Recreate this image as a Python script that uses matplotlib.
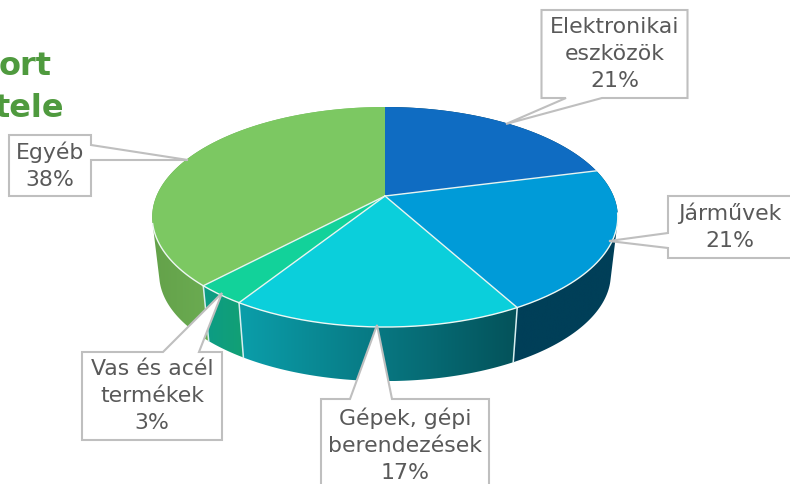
import numpy as np
import matplotlib
matplotlib.use("Agg")
import matplotlib.pyplot as plt
from matplotlib.colors import LinearSegmentedColormap
from matplotlib.patches import Polygon

# slices, clockwise from 12 o'clock
labels = ["Elektronikai\neszközök\n21%", "Járművek\n21%", "Gépek, gépi\nberendezések\n17%",
          "Vas és acél\ntermékek\n3%", "Egyéb\n38%"]
values = [21, 21, 17, 3, 38]
top_colors = ["#0f6cc2", "#009bd8", "#0bcfdb", "#12d29a", "#7cc862"]
wall_left = ["#003f58", "#003f58", "#0b9eaa", "#0c9c86", "#64a24a"]
wall_right = ["#003f58", "#003f58", "#04525a", "#12a074", "#80c868"]

# callouts: box left, top, right, bottom, leader start, leader end, tip (pixels)
boxes = [(541.5, 10, 687.5, 98), (668, 196, 800, 258), (321, 399, 489, 500),
         (82, 352, 222, 440), (9, 135, 91, 196)]
leaders = [((602, 98), (566, 98), (506, 124)), ((668, 248), (668, 233), (609, 241)),
           ((392, 399), (350, 399), (377, 325)), ((199, 352), (163, 352), (222, 293)),
           ((91, 145), (91, 160), (188, 160))]

CX, CY = 385, 196
RX, RY, PERSP = 228.5, 106, 0.191
WALL_DY, WALL_SCALE = 58, 0.97


def rim(theta, lower=False):
    w = 1 + PERSP * np.cos(theta)
    x = RX * np.sin(theta) / w
    y = -RY * np.cos(theta) / w
    if lower:
        return CX + x * WALL_SCALE, CY + WALL_DY + y * WALL_SCALE
    return CX + x, CY + y


def hull(pts):
    # monotone chain, the wall of a slice is the hull of its two rims
    pts = sorted(map(tuple, pts))

    def half(seq):
        out = []
        for p in seq:
            while len(out) > 1 and ((out[-1][0] - out[-2][0]) * (p[1] - out[-2][1])
                                    - (out[-1][1] - out[-2][1]) * (p[0] - out[-2][0])) <= 0:
                out.pop()
            out.append(p)
        return out[:-1]

    return np.array(half(pts) + half(pts[::-1]))


fig = plt.figure(figsize=(7.9, 4.84), dpi=100)
ax = fig.add_axes([0, 0, 1, 1])

edges = np.cumsum([0] + values) / sum(values) * 2 * np.pi

# walls, then top faces
for i in [0, 4, 1, 3, 2]:
    t = np.linspace(edges[i], edges[i + 1], 150)
    xt, yt = rim(t)
    xb, yb = rim(t, lower=True)
    pts = hull(np.column_stack([np.r_[xt, xb], np.r_[yt, yb]]))
    poly = Polygon(pts, closed=True, fc="none", ec="none")
    ax.add_patch(poly)
    cmap = LinearSegmentedColormap.from_list("w%d" % i, [wall_left[i], wall_right[i]])
    im = ax.imshow(np.linspace(0, 1, 256).reshape(1, -1), cmap=cmap, aspect="auto", zorder=1,
                   extent=(pts[:, 0].min(), pts[:, 0].max(), pts[:, 1].max(), pts[:, 1].min()))
    im.set_clip_path(poly)

for b in edges[2:5]:
    x0, y0 = rim(b)
    x1, y1 = rim(b, lower=True)
    ax.plot([x0, x1], [y0, y1], color="#d8eef0", lw=1.1, zorder=2)

for i in range(len(values)):
    t = np.linspace(edges[i], edges[i + 1], 150)
    x, y = rim(t)
    ax.add_patch(Polygon(np.column_stack([np.r_[CX, x], np.r_[CY, y]]), closed=True,
                         fc=top_colors[i], ec="none", zorder=3))

# slice borders and the front of the rim
for b in edges[1:5]:
    x, y = rim(b)
    ax.plot([CX, x], [CY, y], color="#e8f4f0", lw=1.0, zorder=3.5)
t = np.linspace(np.pi * 0.55, np.pi * 1.42, 200)
ax.plot(*rim(t), color="#eef8f4", lw=1.0, zorder=3.5)

# callouts
for lab, (l, t, r, b), (p0, p1, tip) in zip(labels, boxes, leaders):
    # the leader leaves from one side of the box
    if p0[1] == b:
        outline = [(l, t), (r, t), (r, b), p0, tip, p1, (l, b)]
    elif p0[1] == t:
        outline = [(l, t), p1, tip, p0, (r, t), (r, b), (l, b)]
    elif p0[0] == r:
        outline = [(l, t), (r, t), p0, tip, p1, (r, b), (l, b)]
    else:
        outline = [(l, t), (r, t), (r, b), (l, b), p0, tip, p1]
    ax.add_patch(Polygon(outline, closed=True, fc="white", ec="#bfbfbf", lw=1.5, zorder=4,
                         joinstyle="miter"))
    cx = (l + min(r, 792)) / 2
    cy = (t + b) / 2
    if lab.startswith("Gépek"):
        cy = 445
    ax.text(cx, cy, lab, ha="center", va="center", fontsize=15.8, color="#595959",
            linespacing=1.44, zorder=5, family="DejaVu Sans")

# title is cut off by the left edge of the picture
ax.text(52, 75, "ort", ha="right", va="baseline", fontsize=23, fontweight="bold", color="#4f9a3e")
ax.text(64, 117, "tele", ha="right", va="baseline", fontsize=23, fontweight="bold", color="#4f9a3e")

ax.set_xlim(0, 790)
ax.set_ylim(484, 0)
ax.axis("off")
fig.savefig("out.png", dpi=100)
